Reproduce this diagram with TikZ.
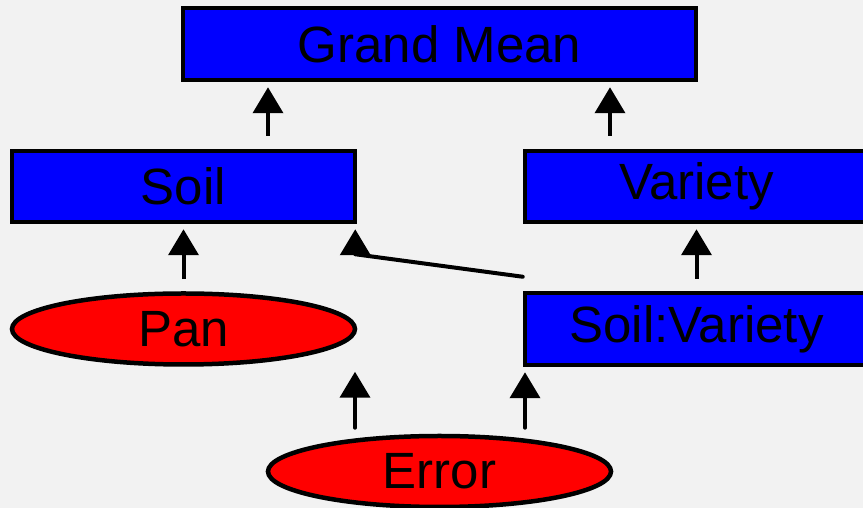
\documentclass[tikz,border=0pt]{standalone}
\usepackage{fontspec}
\setmainfont{Liberation Sans}
\usetikzlibrary{arrows.meta,calc,shapes.geometric}
\definecolor{bg}{HTML}{F2F2F2}
\definecolor{boxblue}{HTML}{0000FF}
\definecolor{ellred}{HTML}{FF0000}
\tikzset{
  box/.style={rectangle, draw=black, line width=4.5pt, fill=boxblue, minimum width=343pt, minimum height=71pt, inner sep=0pt, font=\fontsize{51}{61}\selectfont},
  oval/.style={ellipse, draw=black, line width=4.5pt, fill=ellred, minimum width=343pt, minimum height=71pt, inner sep=0pt, font=\fontsize{51}{61}\selectfont},
  arr/.style={line width=4pt, -{Triangle[length=26pt,width=30pt]}, shorten >=5pt},
}
\begin{document}
\begin{tikzpicture}[x=1pt,y=1pt]
\fill[bg] (0,0) rectangle (863,508);
\useasboundingbox (0,0) rectangle (863,508);
\node[box, minimum width=513pt, minimum height=72pt] (gm) at (439.5,464) {Grand Mean};
\node[box] (soil) at (183.5,321.5) {Soil};
\node[box] (variety) at (696.5,321.5) {Variety};
\node[oval] (pan) at (183.5,179) {Pan};
\node[box, minimum height=72pt] (sv) at (696.5,179) {Soil:Variety};
\node[oval] (error) at (439.5,36.5) {Error};
% arrows
\coordinate (a1) at ($(soil.north)+(84.5,13)$);
\draw[arr] (a1) -- (a1 |- gm.south);
\coordinate (a2) at ($(variety.north)+(-86.5,13)$);
\draw[arr] (a2) -- (a2 |- gm.south);
\coordinate (a3) at ($(pan.north)+(0,12)$);
\draw[arr] (a3) -- (a3 |- soil.south);
\coordinate (a4) at ($(sv.north)+(0,12)$);
\draw[arr] (a4) -- (a4 |- variety.south);
\coordinate (a5) at ($(sv.north west)+(0,14)$);
\coordinate (a6) at ($(soil.south east)+(-2,-30)$);
\draw[arr, line join=round, line cap=round] (a5) -- (a6) -- (a6 |- soil.south);
\coordinate (a7) at ($(error.north)+(-84.5,6)$);
\draw[arr, line cap=round] (a7) -- (a7 |- pan.south);
\coordinate (a8) at ($(error.north)+(85.5,6)$);
\draw[arr, line cap=round] (a8) -- (a8 |- sv.south);
\end{tikzpicture}
\end{document}
